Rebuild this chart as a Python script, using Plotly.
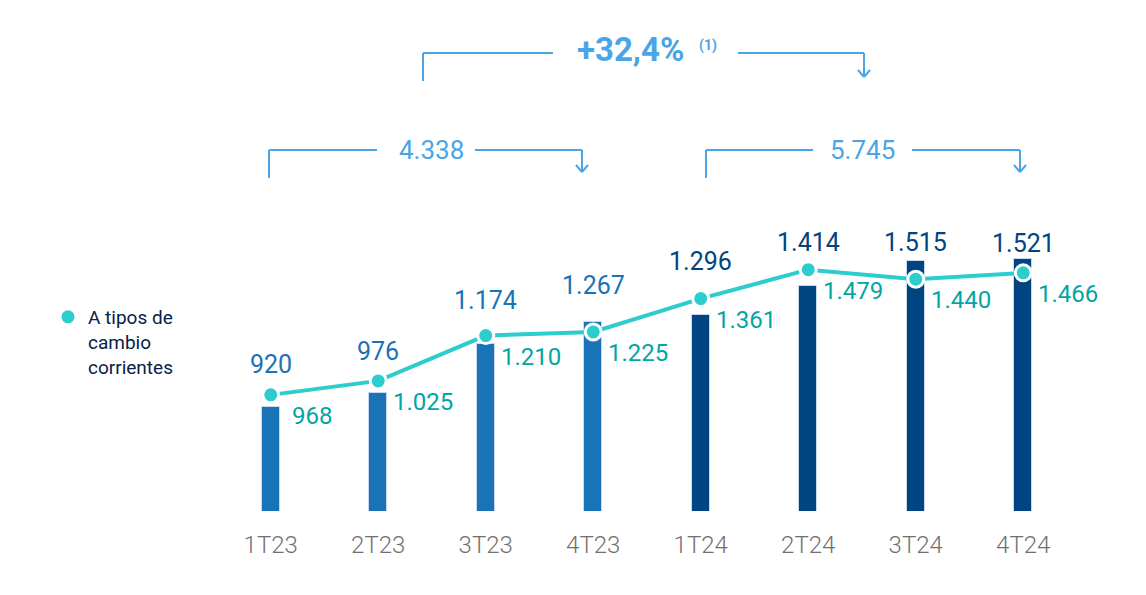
import plotly.graph_objects as go

# ---- data ----
categories = ["1T23", "2T23", "3T23", "4T23", "1T24", "2T24", "3T24", "4T24"]
bar_values = [920, 976, 1174, 1267, 1296, 1414, 1515, 1521]
line_values = [968, 1025, 1210, 1225, 1361, 1479, 1440, 1466]
line_name = "A tipos de<br>cambio<br>corrientes"
total_2023 = "4.338"
total_2024 = "5.745"
growth = "+32,4%"

# ---- style ----
OFF = 8  # page body margin
W, H = 1146 - OFF, 595 - OFF
ML, MR, MT, MB = 209, 69, 0, 84
PW, PH = W - ML - MR, H - MT - MB
Y0, K = 494, 0.245  # axis base value, pixels per unit
Y1 = Y0 + PH / K

C23, C24 = "#1973B8", "#004481"
AQUA, TEAL = "#2DCCCD", "#02A5A5"
LIGHT = "#49A5E6"
FONT = "Roboto"

def fmt(v):
    return f"{v:,}".replace(",", ".")

bar_colors = [C23 if c.endswith("23") else C24 for c in categories]
bar_label_shift = [30, 29, 35, 36, 37, 27, 18, 16]

fig = go.Figure()
fig.add_trace(go.Bar(
    x=categories, y=bar_values, width=0.17,
    marker=dict(color=bar_colors, line=dict(color="#c9d9ec", width=1)),
    showlegend=False, hoverinfo="skip",
))
fig.add_trace(go.Scatter(
    x=categories, y=line_values, mode="lines",
    line=dict(color=AQUA, width=4), showlegend=False, hoverinfo="skip",
))
fig.add_trace(go.Scatter(
    x=categories, y=line_values, mode="markers", name=line_name,
    marker=dict(color=AQUA, size=16, line=dict(color="white", width=3)),
    showlegend=True, hoverinfo="skip",
))

# value labels
for i, (c, b, l) in enumerate(zip(categories, bar_values, line_values)):
    fig.add_annotation(
        x=c, y=max(b, l), text=fmt(b), showarrow=False,
        yshift=bar_label_shift[i], yanchor="middle", xanchor="center",
        font=dict(family=FONT, size=25, color=bar_colors[i]),
    )
    fig.add_annotation(
        x=c, y=l, text=fmt(l), showarrow=False,
        xanchor="left", yanchor="middle", xshift=19 if i == 0 else 13, yshift=-21,
        font=dict(family=FONT, size=24, color=TEAL),
    )

# ---- brackets (decoration; helpers map screen pixels to paper) ----
def px(x):
    return (x - OFF - ML) / PW

def py(y):
    return (H - MB - (y - OFF)) / PH

def seg(x0, y0, x1, y1):
    fig.add_shape(type="line", xref="paper", yref="paper",
                  x0=px(x0), y0=py(y0), x1=px(x1), y1=py(y1),
                  line=dict(color=LIGHT, width=2))

def bracket(xl, xr, ytop, yleft, ytip, gap_l, gap_r):
    seg(xl, yleft, xl, ytop)
    seg(xl, ytop, gap_l, ytop)
    seg(gap_r, ytop, xr, ytop)
    seg(xr, ytop, xr, ytip)
    seg(xr - 6, ytip - 7, xr, ytip)
    seg(xr + 6, ytip - 7, xr, ytip)

bracket(269, 582, 150, 178, 172, 377, 475)
bracket(706, 1020, 150, 178, 172, 813, 912)
bracket(423, 864, 53, 81, 77, 553, 738)

def label(x, y, text, size, bold=False):
    fig.add_annotation(xref="paper", yref="paper", x=px(x), y=py(y), text=text,
                       showarrow=False, xanchor="center", yanchor="middle",
                       font=dict(family=FONT, size=size, color=LIGHT,
                                 weight="bold" if bold else "normal"))

label(431, 150, total_2023, 26)
label(862, 150, total_2024, 26)
label(630, 50, growth, 33, bold=True)
label(708, 46, "(1)", 14, bold=True)

fig.update_layout(
    width=W, height=H,
    margin=dict(l=ML, r=MR, t=MT, b=MB, autoexpand=False),
    paper_bgcolor="white", plot_bgcolor="white",
    font=dict(family=FONT),
    xaxis=dict(type="category", range=[-0.5, len(categories) - 0.5],
               showgrid=False, zeroline=False, showline=False,
               ticks="outside", ticklen=12, tickcolor="rgba(0,0,0,0)",
               tickfont=dict(family=FONT, size=24, color="#707070", weight=300)),
    yaxis=dict(range=[Y0, Y1], visible=False, showgrid=False),
    legend=dict(x=px(48), y=py(298), xanchor="left", yanchor="top",
                valign="top", bgcolor="rgba(0,0,0,0)",
                font=dict(family=FONT, size=19, color="#072146"),
                itemwidth=30),
    bargap=0,
)

fig.write_html("out.html")
